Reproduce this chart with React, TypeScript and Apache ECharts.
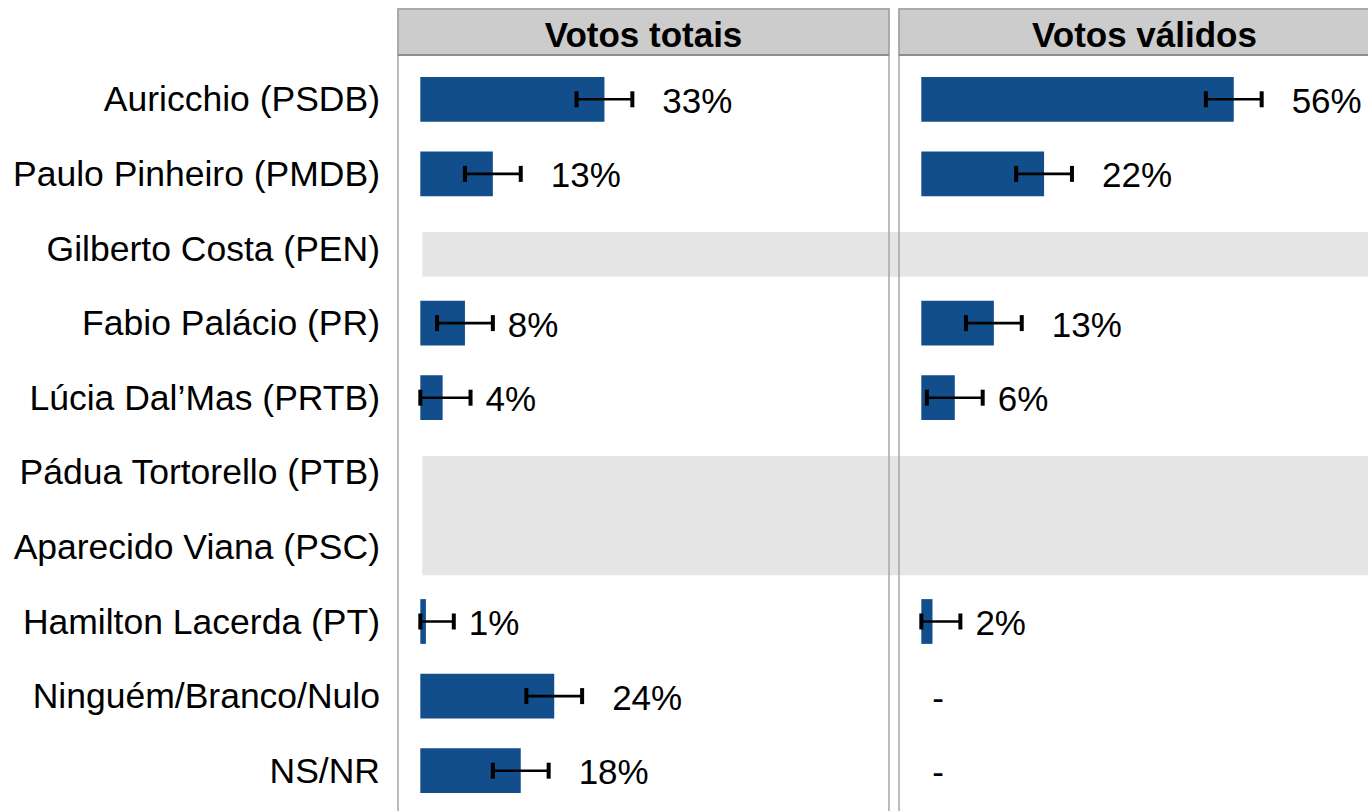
import React, { useEffect, useRef } from 'react';
import * as echarts from 'echarts';

const categories = [
  'Auricchio (PSDB)',
  'Paulo Pinheiro (PMDB)',
  'Gilberto Costa (PEN)',
  'Fabio Palácio (PR)',
  'Lúcia Dal’Mas (PRTB)',
  'Pádua Tortorello (PTB)',
  'Aparecido Viana (PSC)',
  'Hamilton Lacerda (PT)',
  'Ninguém/Branco/Nulo',
  'NS/NR',
];
const votosTotais: (number | null)[] = [33, 13, null, 8, 4, null, null, 1, 24, 18];
const votosValidos: (number | null)[] = [56, 22, null, 13, 6, null, null, 2, null, null];
const margemErro = 5;
const panelTitles = ['Votos totais', 'Votos válidos'];

const FONT = '"Liberation Sans", Arial, Helvetica, sans-serif';
const BLUE = '#114e8b';
const PANEL_LEFT = [398, 899];
const PANEL_W = 491;
const HEADER_TOP = 9;
const HEADER_H = 46;
const GRID_TOP = 62;
const GRID_H = 746;

export default function App() {
  const ref = useRef<HTMLDivElement>(null);
  useEffect(() => {
    if (!ref.current) return;
    const chart = echarts.init(ref.current, undefined, { renderer: 'svg' });

    // groups of consecutive rows without any data -> grey bands
    const bands: number[][] = [];
    votosTotais.forEach((v, i) => {
      if (v == null) {
        const last = bands[bands.length - 1];
        if (last && last[1] === i - 1) last[1] = i;
        else bands.push([i, i]);
      }
    });

    const panels = [votosTotais, votosValidos];

    const grids = PANEL_LEFT.map((l) => ({
      left: l,
      width: PANEL_W,
      top: GRID_TOP,
      height: GRID_H,
      containLabel: false,
      outerBoundsMode: 'none',
    }));

    const xAxes = panels.map((_, i) => ({
      type: 'value',
      gridIndex: i,
      min: -4,
      max: 84,
      axisLabel: { show: false },
      axisLine: { show: false },
      axisTick: { show: false },
      splitLine: { show: false },
    }));

    const yAxes = panels.map((_, i) => ({
      type: 'category',
      gridIndex: i,
      inverse: true,
      data: categories,
      axisLine: { show: false },
      axisTick: { show: false },
      axisLabel: {
        show: i === 0,
        fontSize: 35.5,
        color: '#000',
        fontFamily: FONT,
        margin: 18,
      },
    }));

    const series: any[] = [];

    series.push({
      type: 'custom',
      xAxisIndex: 0,
      yAxisIndex: 0,
      clip: false,
      z: 1,
      silent: true,
      encode: { x: 0, y: 1 },
      data: bands.map((b) => [0, b[0], b[1]]),
      renderItem: (params: any, api: any) => {
        const start = api.value(1);
        const end = api.value(2);
        const band = api.size([0, 1])[1];
        const barH = band * 0.6;
        const shift = band * 0.08;
        const p0 = api.coord([0, start]);
        const p1 = api.coord([0, end]);
        const x = p0[0] + 2;
        const y = p0[1] - barH / 2 + shift;
        return {
          type: 'rect',
          shape: { x, y, width: api.getWidth() - x, height: p1[1] + barH / 2 + shift - y },
          style: { fill: '#e5e5e5' },
        };
      },
    });

    panels.forEach((vals, pi) => {
      series.push({
        type: 'bar',
        xAxisIndex: pi,
        yAxisIndex: pi,
        data: vals,
        barWidth: '60%',
        itemStyle: { color: BLUE },
        z: 2,
        silent: true,
      });
      series.push({
        type: 'custom',
        xAxisIndex: pi,
        yAxisIndex: pi,
        clip: false,
        z: 3,
        silent: true,
        encode: { x: 1, y: 0 },
        data: vals
          .map((v, i) => (v == null ? null : [i, v]))
          .filter((d) => d != null),
        renderItem: (params: any, api: any) => {
          const idx = api.value(0);
          const v = api.value(1);
          const lo = Math.max(0, v - margemErro);
          const hi = v + margemErro;
          const a = api.coord([lo, idx]);
          const b = api.coord([hi, idx]);
          const capH = 16;
          return {
            type: 'group',
            children: [
              {
                type: 'line',
                shape: { x1: a[0], y1: a[1], x2: b[0], y2: b[1] },
                style: { stroke: '#000', lineWidth: 2.6 },
              },
              {
                type: 'line',
                shape: { x1: a[0], y1: a[1] - capH / 2, x2: a[0], y2: a[1] + capH / 2 },
                style: { stroke: '#000', lineWidth: 4 },
              },
              {
                type: 'line',
                shape: { x1: b[0], y1: b[1] - capH / 2, x2: b[0], y2: b[1] + capH / 2 },
                style: { stroke: '#000', lineWidth: 4 },
              },
              {
                type: 'text',
                style: {
                  text: v + '%',
                  x: b[0] + (v >= 10 ? 30 : 15),
                  y: b[1] + 1,
                  align: 'left',
                  verticalAlign: 'middle',
                  fontSize: 35,
                  fontFamily: FONT,
                  fill: '#000',
                },
              },
            ],
          };
        },
      });
    });

    // dashes where total exists but valid vote share not applicable
    series.push({
      type: 'custom',
      xAxisIndex: 1,
      yAxisIndex: 1,
      clip: false,
      z: 3,
      silent: true,
      encode: { x: 1, y: 0 },
      data: votosValidos
        .map((v, i) => (v == null && votosTotais[i] != null ? [i, 0] : null))
        .filter((d) => d != null),
      renderItem: (params: any, api: any) => {
        const p = api.coord([0, api.value(0)]);
        return {
          type: 'text',
          style: {
            text: '-',
            x: p[0] + 11,
            y: p[1] + 1,
            align: 'left',
            verticalAlign: 'middle',
            fontSize: 35,
            fontFamily: FONT,
            fill: '#000',
          },
        };
      },
    });

    const graphic: any[] = [];
    PANEL_LEFT.forEach((l, i) => {
      graphic.push({
        type: 'rect',
        z: 100,
        silent: true,
        shape: { x: l, y: HEADER_TOP, width: PANEL_W, height: HEADER_H },
        style: { fill: '#cccccc', stroke: '#a6a6a6', lineWidth: 1.5 },
      });
      graphic.push({
        type: 'line',
        z: 101,
        silent: true,
        shape: { x1: l, y1: HEADER_TOP + HEADER_H, x2: l + PANEL_W, y2: HEADER_TOP + HEADER_H },
        style: { stroke: '#8f8f8f', lineWidth: 2 },
      });
      graphic.push({
        type: 'rect',
        z: 100,
        silent: true,
        shape: { x: l, y: HEADER_TOP, width: PANEL_W, height: 900 },
        style: { fill: 'none', stroke: '#a6a6a6', lineWidth: 1.5 },
      });
      graphic.push({
        type: 'text',
        z: 102,
        silent: true,
        style: {
          text: panelTitles[i],
          x: l + PANEL_W / 2,
          y: HEADER_TOP + HEADER_H / 2 + 2,
          align: 'center',
          verticalAlign: 'middle',
          fontSize: 35,
          fontWeight: 'bold',
          fontFamily: FONT,
          fill: '#000',
        },
      });
    });

    chart.setOption({
      animation: false,
      backgroundColor: '#ffffff',
      grid: grids,
      xAxis: xAxes,
      yAxis: yAxes,
      series,
      graphic,
    });

    return () => chart.dispose();
  }, []);

  return (
    <div
      ref={ref}
      style={{ position: 'fixed', left: 0, top: 0, width: 1368, height: 811 }}
    />
  );
}
